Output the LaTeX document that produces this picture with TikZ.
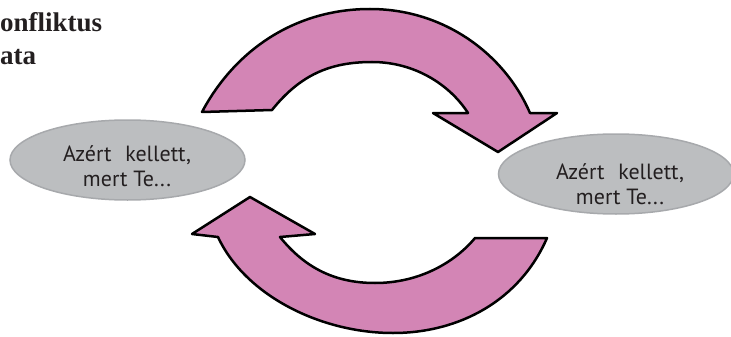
\documentclass[tikz,border=0pt]{standalone}
\usepackage{fontspec}
\newfontfamily\bubblefont{PT Sans}
\newfontfamily\titlefont{Liberation Serif}
\usetikzlibrary{shapes.geometric}
\definecolor{arrowpink}{HTML}{D385B5}
\definecolor{bubblefill}{HTML}{BCBEC0}
\definecolor{bubbleline}{HTML}{A7A9AC}
\definecolor{inktext}{HTML}{231F20}
\tikzset{
  bubble/.style={ellipse, fill=bubblefill, draw=bubbleline, line width=1.5pt,
    minimum width=235pt, minimum height=80pt, inner sep=0pt},
  bubbletext/.style={font=\bubblefont\fontsize{22}{25}\selectfont, text=inktext,
    align=center, inner sep=0pt},
  bigarrow/.style={fill=arrowpink, draw=black, line width=2.5pt, line join=round},
  titletext/.style={font=\titlefont\bfseries\fontsize{27}{32}\selectfont, text=inktext,
    inner sep=0pt, anchor=base west}
}
\begin{document}
\begin{tikzpicture}[x=1pt,y=-1pt]
\useasboundingbox (0,0) rectangle (731,337);
\clip (0,0) rectangle (731,337);
% title (cut at the left edge)
\node[titletext] (t1) at (0,32) {onfliktus};
\node[titletext] (t2) at (0,64) {ata};
% bubbles
\node[bubble] (L) at (127.5,160) {};
\node[bubble] (R) at (616,174) {};
\node[bubbletext] (Lt) at (127,166) {Azért\hspace{0.35em} kellett,\\mert Te...};
\node[bubbletext] (Rt) at (620,184) {Azért\hspace{0.35em} kellett,\\mert Te...};
% top arrow (left to right)
\draw[bigarrow] (202,112) .. controls (235,50) and (295,9) .. (370,9)
  .. controls (445,9) and (505,55) .. (530,113)
  -- (557,113) -- (498,152) -- (433,113) -- (468,113)
  .. controls (450,85) and (415,62) .. (372,62)
  .. controls (330,62) and (300,75) .. (272,110) -- cycle;
% bottom arrow (right to left)
\draw[bigarrow] (547,238) .. controls (520,300) and (460,333) .. (393,333)
  .. controls (320,333) and (245,295) .. (218,237)
  -- (192,234) -- (250,197) -- (315,234) -- (280,237)
  .. controls (305,268) and (335,283) .. (375,283)
  .. controls (420,283) and (455,262) .. (475,238) -- cycle;
\end{tikzpicture}
\end{document}
